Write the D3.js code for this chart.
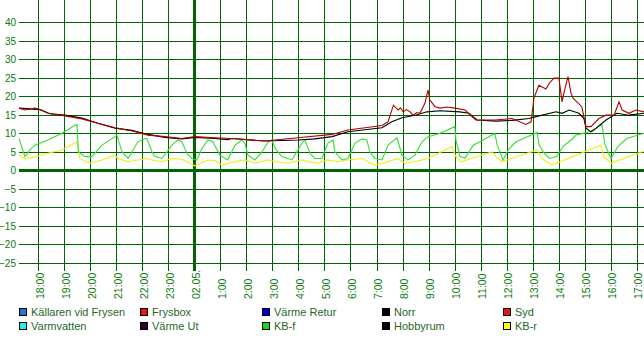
<!DOCTYPE html>
<html>
<head>
<meta charset="utf-8">
<script src="https://cdn.jsdelivr.net/npm/d3@7"></script>
<style>
  body { margin: 0; background: #fff; }
  svg { display: block; font-family: "Liberation Sans", Arial, sans-serif; }
</style>
</head>
<body>
<script>
//
// Temperature log, last 24 hours (hours counted from yesterday 00:00)
//

// Y ticks and x ticks
const yTicks = [-25, -20, -15, -10, -5, 0, 5, 10, 15, 20, 25, 30, 35, 40];
const hourTicks = d3.range(18, 42);
const dateLabel = "02.05.";

// series: [hour, temp]
const syd = [
  [17.26,16.8],[17.49,16.3],[17.87,16.8],[18.07,16.4],[18.37,15.4],[19.03,14.7],[19.68,13.9],
  [20.29,12.7],[20.95,11.5],[21.60,10.6],[22.22,9.5],[22.87,9.1],[23.52,8.6],[24.02,9.1],
  [24.79,8.8],[25.44,8.6],[26.71,7.9],[27.98,8.8],[29.29,9.7],[29.90,10.9],[30.56,11.5],
  [31.21,12.1],[31.44,13.1],[31.65,17.6],[31.83,16.3],[31.92,16.9],[32.02,15.8],[32.15,16.4],
  [32.29,15.8],[32.40,14.9],[32.55,15.6],[32.67,15.4],[32.86,18.1],[32.98,21.7],[33.05,19.0],
  [33.25,17.2],[33.44,16.8],[33.70,17.1],[34.01,16.8],[34.40,16.3],[34.67,14.5],[34.82,13.6],
  [35.55,13.6],[36.21,14.0],[36.74,12.4],[36.94,13.1],[37.05,19.5],[37.24,23.0],[37.51,22.0],
  [37.65,23.6],[37.82,24.9],[38.01,24.9],[38.13,18.5],[38.24,22.0],[38.36,25.3],[38.47,21.0],
  [38.55,19.5],[38.70,18.5],[38.89,17.2],[39.05,11.8],[39.24,11.8],[39.55,14.0],[39.82,14.9],
  [40.13,14.9],[40.32,18.5],[40.44,16.3],[40.70,15.4],[40.97,16.3],[41.28,15.8]
];
const norr = [
  [17.26,16.8],[18.07,16.4],[18.45,15.3],[19.03,14.9],[19.68,14.1],[20.29,12.7],[20.95,11.4],
  [21.60,10.8],[22.22,9.7],[22.87,8.9],[23.52,8.5],[24.02,8.9],[24.79,8.6],[25.28,8.3],
  [25.44,8.6],[26.71,7.9],[27.98,8.2],[28.63,8.5],[29.29,9.1],[29.90,10.4],[31.21,11.5],
  [31.59,13.1],[31.98,14.2],[32.49,14.9],[32.94,15.8],[33.44,16.1],[34.20,15.8],[34.55,15.4],
  [34.86,13.6],[35.59,13.3],[36.21,13.5],[36.86,14.0],[37.13,14.5],[37.90,15.8],[38.13,15.4],
  [38.40,16.3],[38.78,15.4],[38.97,14.0],[39.05,11.4],[39.24,10.4],[39.44,11.4],[39.82,13.6],
  [40.24,15.4],[40.70,14.9],[41.28,15.4]
];
const kbf = [
  [17.26,8.6],[17.49,3.7],[17.68,5.5],[17.87,6.8],[18.37,8.2],[18.91,10.0],[19.41,12.2],
  [19.49,12.4],[19.54,5.0],[19.79,3.7],[20.06,3.7],[20.45,6.8],[20.95,9.1],[21.02,9.5],
  [21.22,5.0],[21.45,3.2],[21.60,5.0],[21.83,7.7],[22.10,8.6],[22.17,8.6],[22.37,5.0],
  [22.48,3.7],[22.75,3.2],[23.14,6.8],[23.36,8.2],[23.52,7.7],[23.71,4.6],[23.90,3.2],
  [24.10,2.8],[24.29,5.9],[24.52,8.2],[24.71,7.7],[24.98,4.1],[25.28,2.8],[25.56,6.8],
  [25.83,8.2],[25.94,7.3],[26.06,4.1],[26.33,2.8],[26.60,5.0],[26.84,7.7],[26.98,8.2],
  [27.10,6.0],[27.36,3.7],[27.75,2.8],[28.13,7.3],[28.25,8.2],[28.44,4.6],[28.63,3.2],
  [28.90,3.2],[29.13,7.3],[29.33,8.2],[29.40,5.0],[29.67,2.8],[29.90,3.2],[30.17,7.3],
  [30.44,8.5],[30.63,8.2],[30.74,5.0],[30.94,3.2],[31.21,2.8],[31.44,6.8],[31.79,8.8],
  [31.98,4.1],[32.21,2.8],[32.48,4.1],[32.75,7.7],[32.98,9.1],[33.44,10.0],[34.01,11.8],
  [34.05,8.2],[34.21,3.7],[34.40,3.3],[34.72,6.8],[34.98,7.7],[35.55,10.0],[35.63,7.0],
  [35.86,2.8],[36.06,5.5],[36.36,7.7],[37.17,10.2],[37.25,6.8],[37.41,5.0],[37.64,3.2],
  [37.92,3.7],[38.17,6.5],[38.55,8.6],[38.66,9.5],[39.32,10.7],[39.66,12.5],[39.78,7.0],
  [40.01,3.2],[40.28,6.5],[40.62,8.6],[41.28,10.0]
];
const kbr = [
  [17.26,4.1],[17.45,3.1],[17.87,3.6],[18.37,4.6],[18.91,5.5],[19.49,7.7],[19.60,3.2],
  [19.99,1.9],[20.45,2.8],[20.95,4.1],[21.06,3.2],[21.45,2.3],[21.83,2.8],[22.17,3.2],
  [22.37,2.8],[22.75,2.3],[23.14,3.2],[23.52,3.0],[24.02,1.2],[24.52,2.8],[24.79,2.6],
  [25.06,1.4],[25.56,2.3],[25.94,2.8],[26.33,1.9],[26.84,2.8],[27.10,2.3],[27.60,1.9],
  [28.13,2.8],[28.38,2.3],[28.75,1.9],[29.13,2.8],[29.52,2.3],[29.90,2.8],[30.44,3.2],
  [30.94,1.4],[31.44,2.3],[31.82,3.2],[32.09,1.9],[32.48,2.3],[32.98,3.2],[33.90,6.4],
  [34.05,3.7],[34.24,2.3],[35.44,5.0],[35.59,3.7],[35.82,2.3],[37.17,5.5],[37.36,3.2],
  [37.74,1.4],[39.62,6.8],[39.74,3.7],[40.01,1.9],[41.20,5.0],[41.28,5.1]
];

const legendNames = ["Källaren vid Frysen", "Frysbox", "Värme Retur", "Norr", "Syd",
                     "Varmvatten", "Värme Ut", "KB-f", "Hobbyrum", "KB-r"];
const legendColors = ["#1e78e0", "#ee1111", "#0000dd", "#000000", "#ee1111",
                      "#22eeee", "#330033", "#11dd11", "#000000", "#ffff11"];

const width = 644, height = 339;
const plot = {left: 19, right: 644, top: 0, bottom: 271};
const grid = "#006400", textCol = "#0b7a0b";

const svg = d3.select("body").append("svg")
  .attr("width", width).attr("height", height);

const x = d3.scaleLinear().domain([17.26, 41.28]).range([plot.left, plot.right]);
const y = d3.scaleLinear().domain([-25, 40]).range([262.8, 22.3]);

// horizontal grid + labels
const yAxis = svg.append("g")
  .attr("transform", `translate(${plot.left},0)`)
  .call(d3.axisLeft(y).tickValues(yTicks).tickSize(-(plot.right - plot.left)).tickPadding(3));
yAxis.select(".domain").remove();
yAxis.selectAll("line").attr("stroke", grid).attr("shape-rendering", "crispEdges")
  .attr("stroke-width", d => d === 0 ? 3 : 1);
yAxis.selectAll("text").attr("fill", textCol).attr("font-size", 10)
  .attr("font-family", "Liberation Sans, Arial, sans-serif");

// vertical grid + rotated hour labels
const xAxis = svg.append("g")
  .attr("transform", `translate(0,${plot.bottom})`)
  .call(d3.axisBottom(x).tickValues(hourTicks).tickSize(-plot.bottom)
    .tickFormat(h => h === 24 ? dateLabel : (h % 24) + ":00"));
xAxis.select(".domain").remove();
xAxis.selectAll("line").attr("stroke", grid).attr("shape-rendering", "crispEdges")
  .attr("stroke-width", d => d === 24 ? 3 : 1);
xAxis.selectAll("text")
  .attr("fill", textCol).attr("font-size", 10.5)
  .attr("font-family", "Liberation Sans, Arial, sans-serif")
  .attr("transform", "rotate(-90)")
  .attr("x", -28).attr("y", 1.5).attr("dy", "0.35em")
  .style("text-anchor", "start");

// series
const line = d3.line().x(d => x(d[0])).y(d => y(d[1]));
const series = [
  {data: kbr, color: "#eeee11"},
  {data: kbf, color: "#33dd33"},
  {data: norr, color: "#000000"},
  {data: syd, color: "#b00000"}
];
svg.append("g").selectAll("path")
  .data(series)
  .join("path")
  .attr("d", s => line(s.data))
  .attr("fill", "none")
  .attr("stroke", s => s.color)
  .attr("stroke-width", 1.1);

// legend, 5 columns x 2 rows
const colX = [19, 140, 262, 382, 503];
const rowY = [308, 322];
const leg = svg.append("g").selectAll("g")
  .data(legendNames)
  .join("g")
  .attr("transform", (d, i) => `translate(${colX[i % 5]},${rowY[Math.floor(i / 5)]})`);
leg.append("rect")
  .attr("x", 0.5).attr("y", 0.5).attr("width", 7).attr("height", 7)
  .attr("fill", (d, i) => legendColors[i])
  .attr("stroke", "#000").attr("shape-rendering", "crispEdges");
leg.append("text")
  .attr("x", 12).attr("y", 8)
  .attr("font-size", 11)
  .attr("fill", "#1f661f")
  .text(d => d);
</script>
</body>
</html>
